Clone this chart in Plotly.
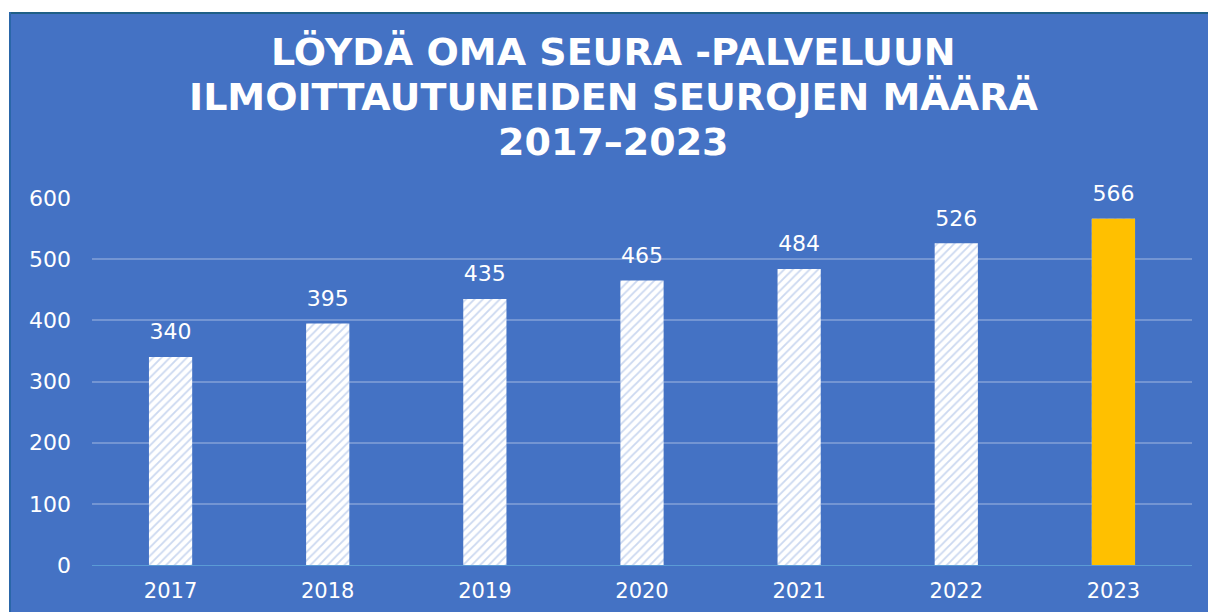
import plotly.graph_objects as go

years = ["2017", "2018", "2019", "2020", "2021", "2022", "2023"]
counts = [340, 395, 435, 465, 484, 526, 566]
highlight_colors = ["rgba(0,0,0,0)"] * 6 + ["#FFC000"]
title_lines = ["LÖYDÄ OMA SEURA -PALVELUUN", "ILMOITTAUTUNEIDEN SEUROJEN MÄÄRÄ", "2017–2023"]

BLUE = "#4472C4"
W, H = 1208, 612
L, R, T, B = 92, 16, 198, 47
pw, ph = W - L - R, H - T - B

def px_x(p):
    return (p - L) / pw

def px_y(p):
    return (H - B - p) / ph

fig = go.Figure()
# striped white bars
fig.add_trace(go.Bar(
    x=years, y=counts,
    marker=dict(
        color="white",
        line=dict(width=0),
        pattern=dict(shape="/", fgcolor="#CBD8F0", bgcolor="white",
                     fgopacity=1, size=6, solidity=0.3, fillmode="overlay"),
    ),
    width=0.275,
    hoverinfo="skip",
))
# highlighted latest year
fig.add_trace(go.Bar(
    x=years, y=counts,
    marker=dict(color=highlight_colors, line=dict(width=0)),
    width=0.275,
    hoverinfo="skip",
))
# value labels above bars
fig.add_trace(go.Scatter(
    x=years, y=counts, mode="markers+text",
    text=[str(v) for v in counts], textposition="top center",
    textfont=dict(family="DejaVu Sans", size=22, color="white"),
    marker=dict(size=18, opacity=0),
    hoverinfo="skip", cliponaxis=False,
))

title_centres = [52, 97, 142]
for line, cy in zip(title_lines, title_centres):
    fig.add_annotation(xref="paper", yref="paper", x=px_x(613), y=px_y(cy),
                       text=line, showarrow=False, xanchor="center", yanchor="middle",
                       font=dict(family="DejaVu Sans", size=38, color="white", weight="bold"))

fig.update_layout(
    width=W, height=H,
    paper_bgcolor=BLUE, plot_bgcolor=BLUE,
    margin=dict(l=L, r=R, t=T, b=B, autoexpand=False),
    showlegend=False,
    barmode="overlay",
    xaxis=dict(
        type="category", automargin=False,
        showgrid=False, showline=True, linecolor="#5B9BD5", linewidth=1,
        tickfont=dict(family="DejaVu Sans", size=21, color="white"),
        ticks="", ticklabelstandoff=7,
    ),
    yaxis=dict(
        automargin=False,
        range=[0, 600], dtick=100, showgrid=True,
        gridcolor="rgba(255,255,255,0.25)", gridwidth=1.5, zeroline=False,
        tickfont=dict(family="DejaVu Sans", size=22, color="white"),
        ticks="", ticklabelstandoff=20,
    ),
)

# white outer margin (top and left) and dark frame edge
fig.add_shape(type="rect", xref="paper", yref="paper",
              x0=px_x(-5), x1=px_x(W + 5), y0=px_y(12), y1=px_y(-5),
              fillcolor="white", line=dict(width=0), layer="above")
fig.add_shape(type="rect", xref="paper", yref="paper",
              x0=px_x(-5), x1=px_x(9), y0=px_y(H + 5), y1=px_y(-5),
              fillcolor="white", line=dict(width=0), layer="above")
fig.add_shape(type="line", xref="paper", yref="paper",
              x0=px_x(9), x1=px_x(W + 5), y0=px_y(13), y1=px_y(13),
              line=dict(color="#1F5F86", width=2), layer="above")
fig.add_shape(type="line", xref="paper", yref="paper",
              x0=px_x(10), x1=px_x(10), y0=px_y(12), y1=px_y(H + 5),
              line=dict(color="#2A66A8", width=2), layer="above")

fig.write_html("out.html", config={"displayModeBar": False},
               post_script="document.body.style.margin='0px';document.body.style.overflow='hidden';")
